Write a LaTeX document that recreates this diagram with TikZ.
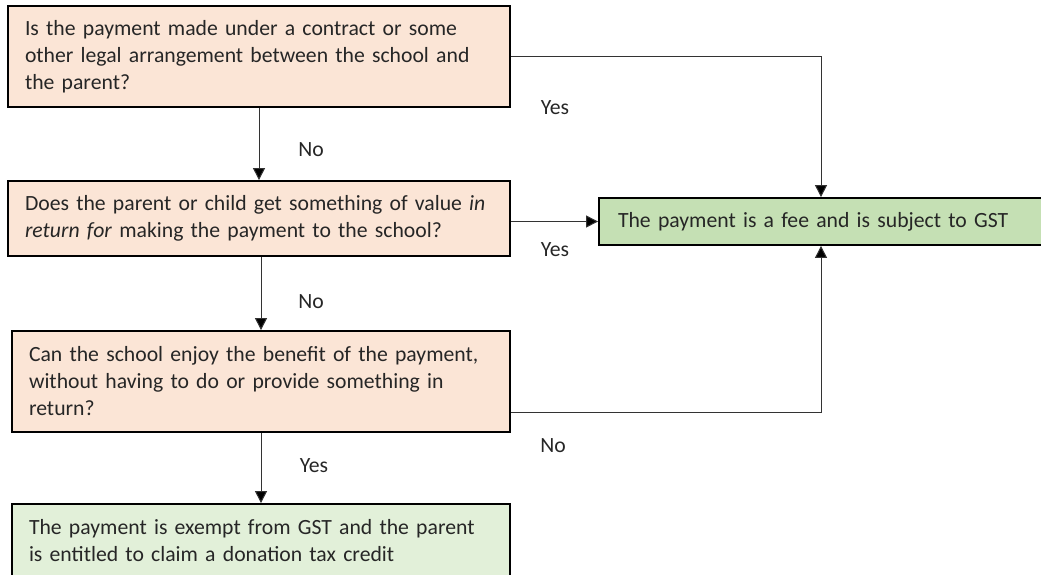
\documentclass[tikz,border=0pt]{standalone}
\usepackage{fontspec}
\setmainfont{Carlito}
\usetikzlibrary{arrows.meta}
\definecolor{orangebox}{HTML}{FBE5D6}
\definecolor{lightgreen}{HTML}{E2F0D9}
\definecolor{midgreen}{HTML}{C5E0B4}
\definecolor{txt}{HTML}{262626}
\definecolor{conn}{HTML}{333333}
\tikzset{
  box/.style={draw=black, line width=1.8pt, rectangle, inner xsep=17pt, inner ysep=0pt,
    align=left, text=txt, font=\fontsize{21.7}{27}\selectfont},
  qbox/.style={box, fill=orangebox},
  arr/.style={draw=conn, line width=1pt, -{Triangle[width=12pt,length=12pt,fill=black]}},
  lbl/.style={text=txt, font=\fontsize{21.7}{24}\selectfont, inner sep=0pt},
}
\begin{document}
\begin{tikzpicture}[x=1pt,y=-1pt]
\useasboundingbox (0,0) rectangle (1041,574);
\node[qbox, text width=468pt, minimum height=101pt] (b1) at (259,56.5)
  {Is the payment made under a contract or some\\other legal arrangement between the school and\\the parent?};
\node[qbox, text width=468pt, minimum height=75pt] (b2) at (259,218.5)
  {Does the parent or child get something of value \textit{in}\\\textit{return for} making the payment to the school?};
\node[qbox, text width=464pt, minimum height=101pt] (b3) at (261,381.5)
  {Can the school enjoy the benefit of the payment,\\without having to do or provide something in\\return?};
\node[box, fill=lightgreen, text width=464pt, minimum height=74pt] (b4) at (261,541)
  {The payment is exempt from GST and the parent\\is entitled to claim a donation tax credit};
\node[box, fill=midgreen, text width=406pt, inner xsep=19pt, minimum height=47pt] (fee) at (821,221.5)
  {The payment is a fee and is subject to GST};

\coordinate (c3) at ([yshift=20pt]b3.south east);

\draw[arr] (b1.south) -- (b2.north);
\draw[arr] (b2.south -| b3.north) -- (b3.north);
\draw[arr] (b3.south) -- (b4.north);
\draw[arr] (b1.east) -| (fee.north);
\draw[arr] (b2.east |- fee.west) -- (fee.west);
\draw[arr] (c3) -| (fee.south);

\node[lbl] (n1) at (311,150) {No};
\node[lbl] (n2) at (311,302) {No};
\node[lbl] (y3) at (314,466) {Yes};
\node[lbl] (y1) at (555,108) {Yes};
\node[lbl] (y2) at (555,250) {Yes};
\node[lbl] (n3) at (553,446) {No};
\end{tikzpicture}
\end{document}
